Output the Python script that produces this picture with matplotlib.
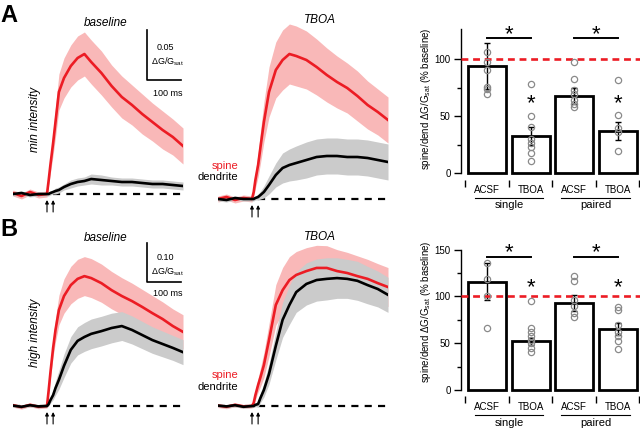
import numpy as np
import matplotlib
matplotlib.use("Agg")
import matplotlib.pyplot as plt
from matplotlib.transforms import offset_copy

plt.rcParams['font.family'] = ['Liberation Sans', 'DejaVu Sans']
plt.rcParams['mathtext.fontset'] = 'custom'
plt.rcParams['mathtext.rm'] = 'Liberation Sans'
plt.rcParams['mathtext.it'] = 'Liberation Sans:italic'

# ---- traces (time in ms, dG/Gsat) ----
t_ms = [0, 25, 50, 75, 100, 105, 110, 118, 125, 135, 150, 170, 190, 210,
        230, 260, 290, 320, 350, 380, 410, 440, 470, 500]
stim_ms = [100, 118]

a_base_spine = [0.001, -0.002, 0.002, -0.001, 0.000, 0.014, 0.029, 0.051, 0.072, 0.102, 0.116, 0.128,
                0.136, 0.140, 0.132, 0.121, 0.108, 0.097, 0.089, 0.080, 0.072, 0.064, 0.057, 0.048]
a_base_spine_sem = [0.003, 0.003, 0.003, 0.003, 0.003, 0.005, 0.008, 0.012, 0.015, 0.018, 0.020, 0.021,
                    0.022, 0.022, 0.022, 0.022, 0.021, 0.021, 0.020, 0.020, 0.019, 0.019, 0.018, 0.018]
a_base_dend = [0.000, 0.001, -0.001, 0.000, 0.000, 0.000, 0.001, 0.002, 0.003, 0.004, 0.007, 0.010,
               0.012, 0.013, 0.015, 0.014, 0.013, 0.012, 0.012, 0.011, 0.010, 0.010, 0.009, 0.008]
a_base_dend_sem = [0.002, 0.002, 0.002, 0.002, 0.002, 0.002, 0.002, 0.002, 0.003, 0.003, 0.003, 0.004,
                   0.004, 0.004, 0.005, 0.005, 0.004, 0.004, 0.004, 0.004, 0.004, 0.004, 0.004, 0.004]

a_tboa_spine = [0.000, 0.002, -0.001, 0.001, 0.000, 0.007, 0.019, 0.034, 0.052, 0.077, 0.107, 0.129,
                0.139, 0.145, 0.143, 0.139, 0.132, 0.124, 0.117, 0.111, 0.103, 0.094, 0.087, 0.079]
a_tboa_spine_sem = [0.003, 0.003, 0.003, 0.003, 0.003, 0.005, 0.008, 0.012, 0.016, 0.020, 0.025, 0.028,
                    0.030, 0.030, 0.030, 0.029, 0.028, 0.027, 0.026, 0.025, 0.025, 0.024, 0.023, 0.023]
a_tboa_dend = [0.000, -0.001, 0.001, 0.000, 0.000, 0.000, 0.001, 0.002, 0.004, 0.007, 0.014, 0.024,
               0.031, 0.034, 0.036, 0.039, 0.042, 0.043, 0.043, 0.042, 0.042, 0.041, 0.039, 0.037]
a_tboa_dend_sem = [0.002, 0.002, 0.002, 0.002, 0.002, 0.002, 0.002, 0.003, 0.004, 0.006, 0.009, 0.012,
                   0.015, 0.016, 0.017, 0.018, 0.018, 0.018, 0.018, 0.018, 0.018, 0.018, 0.018, 0.018]

b_base_spine = [0.002, -0.003, 0.003, -0.002, 0.000, 0.041, 0.085, 0.149, 0.195, 0.246, 0.282, 0.310,
                0.326, 0.333, 0.328, 0.315, 0.297, 0.282, 0.269, 0.254, 0.238, 0.223, 0.205, 0.190]
b_base_spine_sem = [0.005, 0.005, 0.005, 0.005, 0.005, 0.010, 0.015, 0.022, 0.030, 0.038, 0.044, 0.048,
                    0.050, 0.050, 0.050, 0.049, 0.048, 0.047, 0.046, 0.045, 0.045, 0.044, 0.044, 0.044]
b_base_dend = [0.001, -0.002, 0.002, -0.001, 0.000, 0.005, 0.015, 0.028, 0.046, 0.067, 0.103, 0.144,
               0.167, 0.177, 0.185, 0.192, 0.200, 0.205, 0.195, 0.182, 0.169, 0.159, 0.149, 0.138]
b_base_dend_sem = [0.004, 0.004, 0.004, 0.004, 0.004, 0.005, 0.008, 0.012, 0.018, 0.024, 0.030, 0.034,
                   0.036, 0.037, 0.038, 0.038, 0.038, 0.037, 0.036, 0.035, 0.034, 0.033, 0.032, 0.032]

b_tboa_spine = [0.001, -0.002, 0.003, -0.001, 0.000, 0.008, 0.028, 0.054, 0.074, 0.105, 0.169, 0.259,
                0.297, 0.323, 0.336, 0.346, 0.354, 0.354, 0.346, 0.341, 0.333, 0.326, 0.315, 0.305]
b_tboa_spine_sem = [0.005, 0.005, 0.005, 0.005, 0.005, 0.008, 0.012, 0.018, 0.024, 0.032, 0.042, 0.052,
                    0.058, 0.060, 0.060, 0.060, 0.058, 0.057, 0.055, 0.053, 0.052, 0.050, 0.050, 0.050]
b_tboa_dend = [0.001, -0.001, 0.002, -0.002, 0.000, 0.000, 0.003, 0.005, 0.021, 0.041, 0.082, 0.154,
               0.221, 0.259, 0.292, 0.313, 0.323, 0.326, 0.328, 0.326, 0.321, 0.310, 0.300, 0.285]
b_tboa_dend_sem = [0.004, 0.004, 0.004, 0.004, 0.004, 0.004, 0.005, 0.008, 0.012, 0.018, 0.026, 0.036,
                   0.045, 0.050, 0.052, 0.054, 0.054, 0.054, 0.052, 0.050, 0.050, 0.048, 0.046, 0.045]

# ---- bar charts (% baseline) ----
bar_labels = ['ACSF', 'TBOA', 'ACSF', 'TBOA']
group_labels = ['single', 'paired']

a_means = [94, 33, 68, 37]
a_sems = [20, 8, 7, 8]
a_points = [[106, 98, 91, 76, 74, 70],
            [78, 50, 41, 30, 27, 23, 18, 11],
            [98, 83, 73, 70, 64, 61, 58],
            [82, 51, 40, 36, 20]]

b_means = [116, 52, 93, 65]
b_sems = [20, 4, 9, 6.5]
b_points = [[136, 119, 101, 66],
            [95, 66, 62, 58, 53, 50, 45, 41],
            [122, 117, 96, 90, 82, 78],
            [89, 85, 70, 62, 58, 52, 44]]

RED = '#ec1c24'
PINK = '#f9b8b8'
GREY = '#cbcbcb'
W, H = 640, 429
fig = plt.figure(figsize=(6.4, 4.29), dpi=100)


def px_axes(x0, y0, x1, y1):
    return fig.add_axes([x0 / W, 1 - y1 / H, (x1 - x0) / W, (y1 - y0) / H])


def trace_panel(x0, top, bottom, base, per_px, sp, sp_sem, de, de_sem):
    ax = px_axes(x0, top, x0 + 170, bottom)
    ax.set_xlim(0, 500)
    ax.set_ylim(-(bottom - base) * per_px, (base - top) * per_px)
    ax.axis('off')
    t = np.array(t_ms)
    sp, sp_sem, de, de_sem = map(np.array, (sp, sp_sem, de, de_sem))
    ax.plot([0, 500], [0, 0], color='k', lw=1.6, dashes=(3.2, 2.8), zorder=1)
    ax.fill_between(t, sp - sp_sem, sp + sp_sem, color=PINK, lw=0, zorder=2)
    ax.fill_between(t, de - de_sem, de + de_sem, color=GREY, lw=0, zorder=3)
    ax.plot(t, sp, color=RED, lw=1.9, zorder=4)
    ax.plot(t, de, color='k', lw=1.9, zorder=5)
    for ts in stim_ms:
        ax.annotate('', xy=(ts, -6 * per_px), xytext=(ts, -18 * per_px),
                    arrowprops=dict(arrowstyle='-|>', color='k', lw=0.8,
                                    mutation_scale=5, shrinkA=0, shrinkB=0),
                    annotation_clip=False)
    return ax


def star(ax, x, y, fs=16):
    tr = offset_copy(ax.transData, fig=fig, y=-0.40 * fs, units='points')
    ax.text(x, y, '*', transform=tr, ha='center', va='baseline', fontsize=fs)


def bar_panel(top, bottom, ymax, means, sems, points, minors, pair_y, base_star_y):
    ax = px_axes(461, top, 640, bottom)
    x = np.arange(4)
    ax.set_xlim(-0.6, 3.515)
    ax.set_ylim(0, ymax)
    ax.axhline(100, color=RED, lw=1.9, dashes=(2.6, 1.8), zorder=4)
    ax.bar(x, means, width=0.87, color='white', edgecolor='k', lw=2.0,
           zorder=2, clip_on=False)
    ax.errorbar(x, means, yerr=sems, fmt='none', ecolor='k', elinewidth=1,
                capsize=2.5, capthick=1, zorder=3)
    for i, pts in enumerate(points):
        ax.plot([i] * len(pts), pts, 'o', mfc='none', mec='#8a8a8a', ms=4.5,
                mew=0.9, zorder=5, clip_on=False)
    for x0, x1 in [(0, 1), (2, 3)]:
        ax.plot([x0, x1], [pair_y, pair_y], color='k', lw=1.4, clip_on=False)
        star(ax, (x0 + x1) / 2, pair_y + 7.5 * ymax / (bottom - top))
    for xi in (1, 3):
        star(ax, xi, base_star_y)
    for s in ('top', 'right', 'bottom'):
        ax.spines[s].set_visible(False)
    ax.spines['left'].set_linewidth(1)
    ax.spines['bottom'].set_position(('outward', 4.6))
    ax.set_yticks([0, 50, 100, 150] if ymax > 140 else [0, 50, 100])
    ax.set_yticks(minors, minor=True)
    ax.tick_params(axis='y', which='major', length=5, width=1, pad=2.5, labelsize=7)
    ax.tick_params(axis='y', which='minor', length=3, width=1)
    ax.set_xticks(x, bar_labels)
    ax.set_xticks([-0.5, 0.5, 1.5, 2.5, 3.5], minor=True)
    ax.tick_params(axis='x', which='major', length=0, pad=3.8, labelsize=7)
    ax.tick_params(axis='x', which='minor', length=5, width=1)
    ax.set_ylabel('spine/dend \u0394G/G$_\\mathregular{sat}$ (% baseline)', fontsize=7)
    return ax


# ---- panel A ----
a1 = trace_panel(13, 20, 215, 194, 0.001, a_base_spine, a_base_spine_sem,
                 a_base_dend, a_base_dend_sem)
a1.plot([394, 394, 494], [0.164, 0.114, 0.114], color='k', lw=1.2, clip_on=False)
a2 = trace_panel(218, 20, 220, 199, 0.001, a_tboa_spine, a_tboa_spine_sem,
                 a_tboa_dend, a_tboa_dend_sem)

# ---- panel B ----
bs = 0.10 / 39
b1 = trace_panel(13, 230, 429, 406, bs, b_base_spine, b_base_spine_sem,
                 b_base_dend, b_base_dend_sem)
b1.plot([394, 394, 494], [0.418, 0.318, 0.318], color='k', lw=1.2, clip_on=False)
b2 = trace_panel(218, 230, 429, 406, bs, b_tboa_spine, b_tboa_spine_sem,
                 b_tboa_dend, b_tboa_dend_sem)

ba = bar_panel(29, 173.3, 126.6, a_means, a_sems, a_points, [25, 75], 118.4, 64)
ba.yaxis.set_label_coords(-0.155, 0.52)
bb = bar_panel(249.7, 390, 150, b_means, b_sems, b_points, [25, 75, 125], 142, 113.5)
bb.yaxis.set_label_coords(-0.155, 0.556)

# ---- annotations in pixel space ----
ov = fig.add_axes([0, 0, 1, 1])
ov.set_xlim(0, W)
ov.set_ylim(H, 0)
ov.axis('off')

ov.text(0, 16, 'A', fontsize=17, fontweight='bold', va='center', ha='left')
ov.text(0, 230, 'B', fontsize=17, fontweight='bold', va='center', ha='left')
for y, yb in [(23, 20), (238, 237)]:
    ov.text(106, y, 'baseline', fontsize=8.5, style='italic', ha='center', va='center')
    ov.text(320, yb, 'TBOA', fontsize=8.5, style='italic', ha='center', va='center')
ov.text(35, 119, 'min intensity', fontsize=8.5, style='italic', rotation=90,
        ha='center', va='center')
ov.text(35, 333, 'high intensity', fontsize=8.5, style='italic', rotation=90,
        ha='center', va='center')
for ys, yd in [(166, 177), (375, 387)]:
    ov.text(238, ys, 'spine', color=RED, fontsize=8, ha='right', va='center')
    ov.text(238, yd, 'dendrite', color='k', fontsize=8, ha='right', va='center')

for y0, txt in [(48, '0.05'), (258, '0.10')]:
    ov.text(157, y0, txt, fontsize=6.5, ha='left', va='center')
    ov.text(151, y0 + 14, '\u0394G/G$_\\mathregular{sat}$', fontsize=6.5, ha='left', va='center')
ov.text(153, 94, '100 ms', fontsize=6.5, ha='left', va='center')
ov.text(153, 294, '100 ms', fontsize=6.5, ha='left', va='center')

for yl, yt in [(198, 205), (415, 423)]:
    for (x0, x1), g in zip([(475, 543), (561, 630)], group_labels):
        ov.plot([x0, x1], [yl, yl], color='k', lw=0.8)
        ov.text((x0 + x1) / 2, yt, g, fontsize=8, ha='center', va='center')

fig.savefig('out.png', dpi=100)
